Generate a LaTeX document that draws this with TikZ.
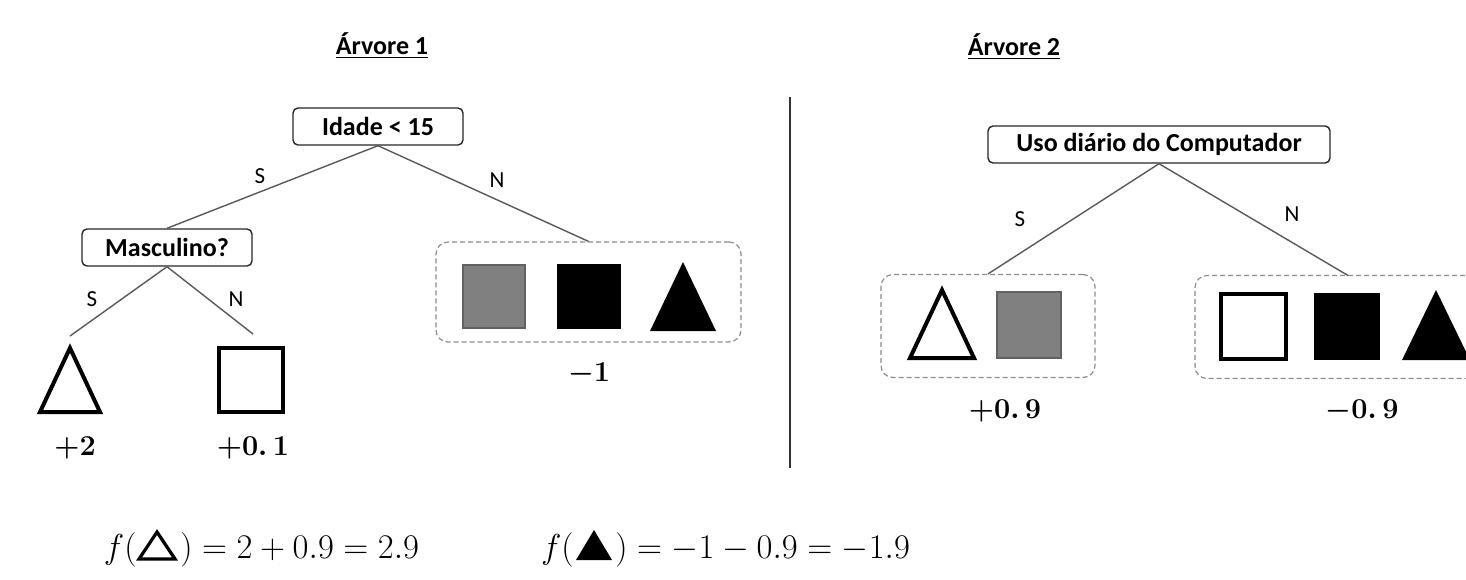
\documentclass[tikz,border=0pt]{standalone}
\usepackage{fontspec}
\setmainfont{Carlito}
\begin{document}
\begin{tikzpicture}[x=0.5pt,y=-0.5pt,
  decision/.style={draw=black!85, line width=0.7pt, rounded corners=2.5pt, minimum height=18.5pt, inner sep=0pt, font=\fontsize{13}{15}\selectfont\bfseries},
  edge/.style={draw=black!65, line width=0.7pt},
  grp/.style={draw=black!45, line width=0.6pt, dash pattern=on 2.5pt off 1.5pt, rounded corners=6pt, inner sep=0pt},
  title/.style={font=\fontsize{13}{15}\selectfont\bfseries, inner sep=0pt},
  brlab/.style={font=\fontsize{11.5}{13}\selectfont, inner sep=0pt},
  val/.style={font=\fontsize{15}{17}\selectfont\boldmath, inner sep=0pt},
  formula/.style={font=\fontsize{16.5}{18}\selectfont, inner sep=0pt},
  openshape/.style={draw=black, line width=2pt, fill=white},
  grayshape/.style={draw=black!62, fill=black!50, line width=1.4pt},
  blackshape/.style={fill=black}
]
\clip (0,0) rectangle (1466,579);
\useasboundingbox (0,0) rectangle (1466,579);

% titles
\node[title] (t1) at (382,46) {\underline{Árvore 1}};
\node[title] (t2) at (1014,47) {\underline{Árvore 2}};

% divider
\draw[black!80, line width=0.7pt] (790,97) -- (790,468);

% ---------- Tree 1 ----------
\node[decision, minimum width=85pt] (idade) at (378,126.5) {Idade < 15};
\node[decision, minimum width=85pt] (masc) at (167,247.5) {Masculino?};
\node[grp, minimum width=152.5pt, minimum height=50pt] (g1) at (588.5,292) {};

\draw[edge] (idade.south) -- (masc.north);
\draw[edge] (idade.south) -- (g1.north);
\node[brlab] (s1) at (260,176) {S};
\node[brlab] (n1) at (497,180) {N};

\coordinate (e1) at (70,336);
\coordinate (e2) at (253,334);
\draw[edge] (masc.south) -- (e1);
\draw[edge] (masc.south) -- (e2);
\node[brlab] (s2) at (92,299) {S};
\node[brlab] (n2) at (236,299) {N};

% leaves tree 1
\draw[openshape] (70,348) -- (100,412) -- (40,412) -- cycle;
\draw[openshape] (219,348) rectangle (283,412);
\node[val] (v1) at (75,448) {$+2$};
\node[val] (v2) at (253,448) {$+0\mathpunct{.}1$};

% group 1 content
\draw[grayshape] (463,265) rectangle (525,328);
\fill[blackshape] (557,264) rectangle (621,329);
\fill[blackshape] (683,262) -- (716,331) -- (650,331) -- cycle;
\node[val] (v3) at (589,374) {$-1$};

% ---------- Tree 2 ----------
\node[decision, minimum width=171pt] (uso) at (1159,144.5) {Uso diário do Computador};
\node[grp, minimum width=107pt, minimum height=51.5pt] (g2) at (988,326) {};
\node[grp, minimum width=145pt, minimum height=51.5pt] (g3) at (1340,327) {};
\coordinate (e3) at (1348,275.5);
\draw[edge] (uso.south) -- (g2.north);
\draw[edge] (uso.south) -- (e3);
\node[brlab] (s3) at (1020,219) {S};
\node[brlab] (n3) at (1292,214) {N};

% group 2 content
\draw[openshape] (942,290) -- (974,358) -- (910,358) -- cycle;
\draw[grayshape] (997,292) rectangle (1061,358);
\node[val] (v4) at (1005,411) {$+0\mathpunct{.}9$};

% group 3 content
\draw[openshape] (1221,294) rectangle (1286,359);
\fill[blackshape] (1314,293) rectangle (1380,360);
\fill[blackshape] (1436,290) -- (1470,360) -- (1402,360) -- cycle;
\node[val] (v5) at (1362,411) {$-0\mathpunct{.}9$};

% ---------- formulas ----------
\node[formula, anchor=base east] (fa1) at (137,558) {$f($};
\draw[black, line width=1.6pt, line join=miter] (157,532) -- (175,559) -- (139,559) -- cycle;
\node[formula, anchor=base west] (fb1) at (180,558) {$)=2+0.9=2.9$};

\node[formula, anchor=base east] (fa2) at (574,558) {$f($};
\fill[black] (594,530) -- (612,560) -- (576,560) -- cycle;
\node[formula, anchor=base west] (fb2) at (615,558) {$)=-1-0.9=-1.9$};
\end{tikzpicture}
\end{document}
